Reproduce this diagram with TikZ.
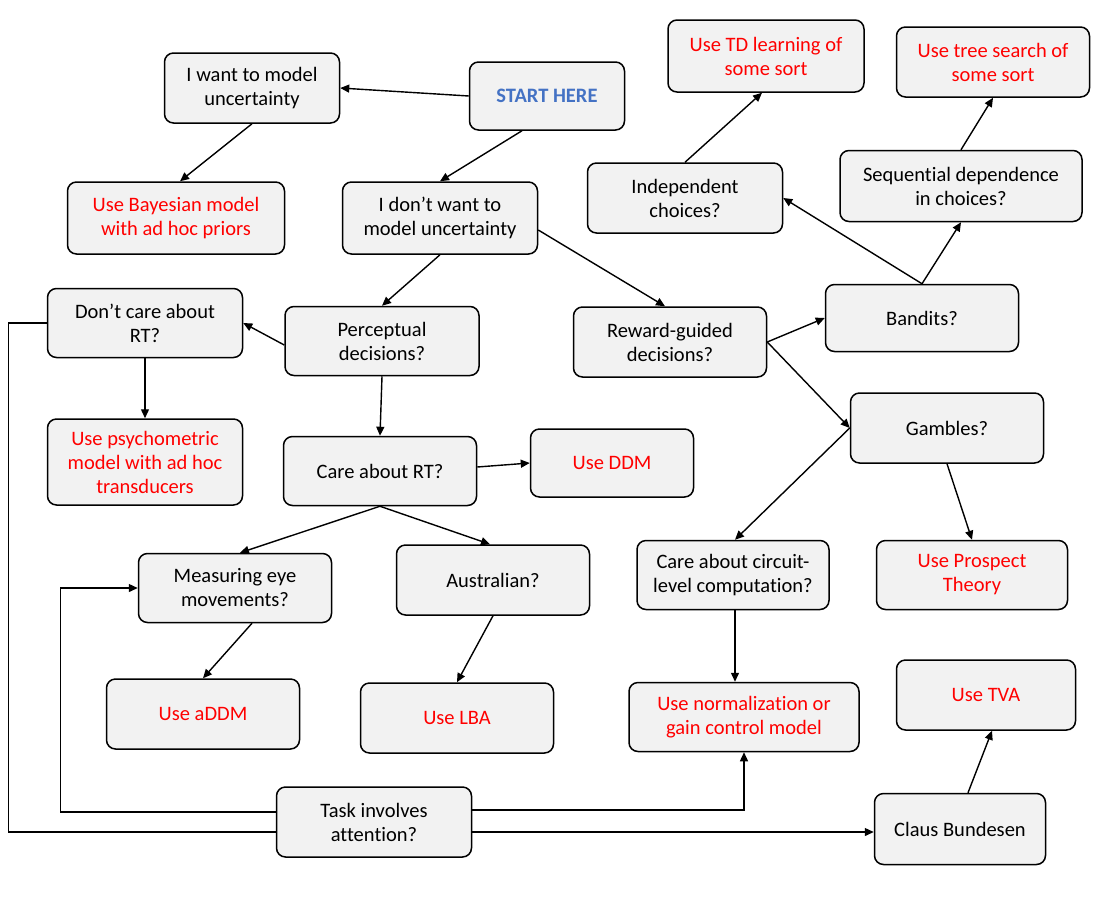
\documentclass[tikz,border=0pt]{standalone}
\usepackage{fontspec}
\setmainfont{Carlito}[Ligatures=CommonOff]
\usetikzlibrary{arrows.meta}
\definecolor{boxgray}{HTML}{F2F2F2}
\definecolor{outred}{HTML}{FF0000}
\definecolor{startblue}{HTML}{4472C4}
\tikzset{
  box/.style={draw=black, line width=1.5pt, rounded corners=9pt, fill=boxgray,
    inner sep=0pt, align=center, font=\fontsize{20.5}{24}\selectfont},
  outbox/.style={box, text=outred},
  conn/.style={line width=1.4pt, -{Triangle[length=9pt,width=8pt]}},
  plain/.style={line width=1.4pt},
}
\begin{document}
\begin{tikzpicture}[x=1pt,y=-1pt]
\useasboundingbox (0,0) rectangle (1104,906);
% nodes
\node[box, minimum width=175, minimum height=70] (want) at (252,88) {I want to model\\uncertainty};
\node[box, minimum width=155, minimum height=68, text=startblue, font=\fontsize{20.5}{24}\selectfont\bfseries] (start) at (547,96) {START HERE};
\node[outbox, minimum width=217, minimum height=72] (bayes) at (176,218) {Use Bayesian model\\with ad hoc priors};
\node[box, minimum width=195, minimum height=72] (dont) at (440,218) {I don’t want to\\model uncertainty};
\node[outbox, minimum width=196, minimum height=72] (td) at (766,56) {Use TD learning of\\some sort};
\node[outbox, minimum width=193, minimum height=70] (tree) at (993,62) {Use tree search of\\some sort};
\node[box, minimum width=195, minimum height=70] (indep) at (685,198) {Independent\\choices?};
\node[box, minimum width=242, minimum height=71] (seq) at (961,186) {Sequential dependence\\in choices?};
\node[box, minimum width=193, minimum height=67] (bandits) at (922,318) {Bandits?};
\node[box, minimum width=195, minimum height=69] (dcare) at (145,323) {Don’t care about\\RT?};
\node[box, minimum width=194, minimum height=69] (percep) at (382,341) {Perceptual\\decisions?};
\node[box, minimum width=193, minimum height=70] (reward) at (670,342) {Reward-guided\\decisions?};
\node[outbox, minimum width=195, minimum height=86] (psych) at (145,462) {Use psychometric\\model with ad hoc\\transducers};
\node[box, minimum width=193, minimum height=69] (care) at (380,471) {Care about RT?};
\node[outbox, minimum width=163, minimum height=68] (ddm) at (612,463) {Use DDM};
\node[box, minimum width=193, minimum height=70] (gambles) at (947,428) {Gambles?};
\node[box, minimum width=193, minimum height=69] (eye) at (235,588) {Measuring eye\\movements?};
\node[box, minimum width=193, minimum height=70] (aus) at (493,580) {Australian?};
\node[box, minimum width=192, minimum height=69] (circ) at (733,575) {Care about circuit-\\level computation?};
\node[outbox, minimum width=191, minimum height=69] (prospect) at (972,575) {Use Prospect\\Theory};
\node[outbox, minimum width=193, minimum height=70] (addm) at (203,714) {Use aDDM};
\node[outbox, minimum width=193, minimum height=70] (lba) at (457,718) {Use LBA};
\node[outbox, minimum width=230, minimum height=69] (norm) at (744,717) {Use normalization or\\gain control model};
\node[outbox, minimum width=179, minimum height=70] (tva) at (986,695) {Use TVA};
\node[box, minimum width=195, minimum height=70] (task) at (374,822) {Task involves\\attention?};
\node[box, minimum width=171, minimum height=71] (claus) at (960,829) {Claus Bundesen};
% connectors
\draw[plain] (dcare.west) -- ++(-38,0) |- ([yshift=-10pt]task.west);
\draw[conn] (start.west) -- (want.east);
\draw[conn] ([xshift=-25pt]start.south) -- (dont.north);
\draw[conn] (want.south) -- ([xshift=4pt]bayes.north);
\draw[conn] ([yshift=-12pt]dont.east) -- ([xshift=-5pt]reward.north);
\draw[conn] (dont.south) -- (percep.north);
\draw[conn] ([yshift=-4pt]percep.west) -- (dcare.east);
\draw[conn] (dcare.south) -- (psych.north);
\draw[conn] (percep.south) -- (care.north);
\draw[conn] ([yshift=4pt]care.east) -- (ddm.west);
\draw[conn] (care.south) -- ([xshift=5pt]eye.north);
\draw[conn] (care.south) -- ([xshift=-3pt]aus.north);
\draw[conn] ([xshift=17pt]eye.south) -- (addm.north);
\draw[conn] (aus.south) -- (lba.north);
\draw[conn] (reward.east) -- (bandits.west);
\draw[conn] (reward.east) -- (gambles.west);
\draw[conn] (gambles.west) -- ([xshift=2pt]circ.north);
\draw[conn] (gambles.south) -- (prospect.north);
\draw[conn] ([xshift=2pt]circ.south) -- ([xshift=2pt]circ.south |- norm.north);
\draw[conn] (bandits.north) -- (indep.east);
\draw[conn] (bandits.north) -- (seq.south);
\draw[conn] (indep.north) -- ([xshift=-4pt]td.south);
\draw[conn] (seq.north) -- (tree.south);
\draw[conn] ([xshift=8pt]claus.north) -- ([xshift=6pt]tva.south);
\draw[conn] ([yshift=10pt]task.west) -- ++(-215,0) |- (eye.west);
\draw[conn] ([yshift=-10pt]task.east) -- ([yshift=-10pt]task.east -| claus.west);
\draw[conn] ([yshift=12pt]task.east) -| (norm.south);
\end{tikzpicture}
\end{document}
